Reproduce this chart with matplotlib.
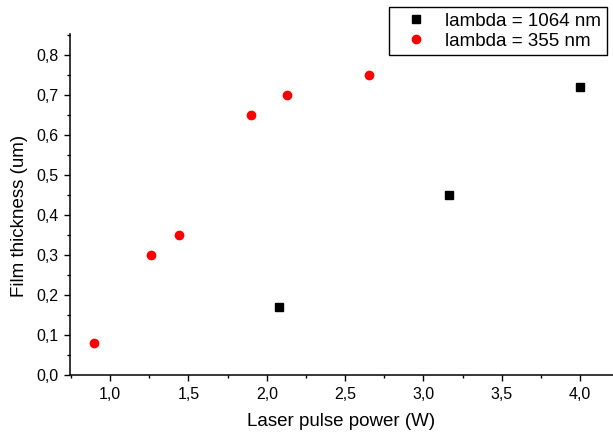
import matplotlib
matplotlib.use("Agg")
import matplotlib.pyplot as plt
from matplotlib.ticker import MultipleLocator, FuncFormatter

# data
power_1064 = [2.08, 3.16, 4.00]
thick_1064 = [0.17, 0.45, 0.72]

power_355 = [0.90, 1.26, 1.44, 1.90, 2.13, 2.65]
thick_355 = [0.08, 0.30, 0.35, 0.65, 0.70, 0.75]

plt.rcParams["font.family"] = ["Liberation Sans", "DejaVu Sans"]

fig = plt.figure(figsize=(6.13, 4.33), dpi=100)
ax = fig.add_axes([70 / 613, 58 / 433, 543 / 613, 341 / 433])

ax.plot(power_1064, thick_1064, "s", color="black", markersize=5.5,
        label="lambda = 1064 nm")
ax.plot(power_355, thick_355, "o", color="#ff0000", markersize=6,
        label="lambda = 355 nm")

ax.set_xlim(0.744, 4.21)
ax.set_ylim(0, 0.8525)

ax.xaxis.set_major_locator(MultipleLocator(0.5))
ax.xaxis.set_minor_locator(MultipleLocator(0.25))
ax.yaxis.set_major_locator(MultipleLocator(0.1))
ax.yaxis.set_minor_locator(MultipleLocator(0.05))

comma = FuncFormatter(lambda v, p: f"{v:.1f}".replace(".", ","))
ax.xaxis.set_major_formatter(comma)
ax.yaxis.set_major_formatter(comma)

for side in ("top", "right"):
    ax.spines[side].set_visible(False)
for side in ("left", "bottom"):
    ax.spines[side].set_linewidth(1.1)

ax.tick_params(which="major", direction="out", length=4.5, width=1.0,
               labelsize=11.5, pad=4)
ax.tick_params(which="minor", direction="out", length=2.5, width=1.0)

ax.set_xlabel("Laser pulse power (W)", fontsize=13.5, labelpad=8)
ax.set_ylabel("Film thickness (um)", fontsize=13.5)
ax.yaxis.set_label_coords(-0.078, 0.466)

leg = fig.legend(loc="upper right", bbox_to_anchor=(607 / 613, 1 - 7 / 433),
                 fontsize=13.5, frameon=True, fancybox=False, framealpha=1,
                 edgecolor="black", borderpad=0.3, handletextpad=0.4,
                 labelspacing=0.15, handlelength=2.3, borderaxespad=0)
leg.get_frame().set_linewidth(1.0)

fig.savefig("out.png", dpi=100)
